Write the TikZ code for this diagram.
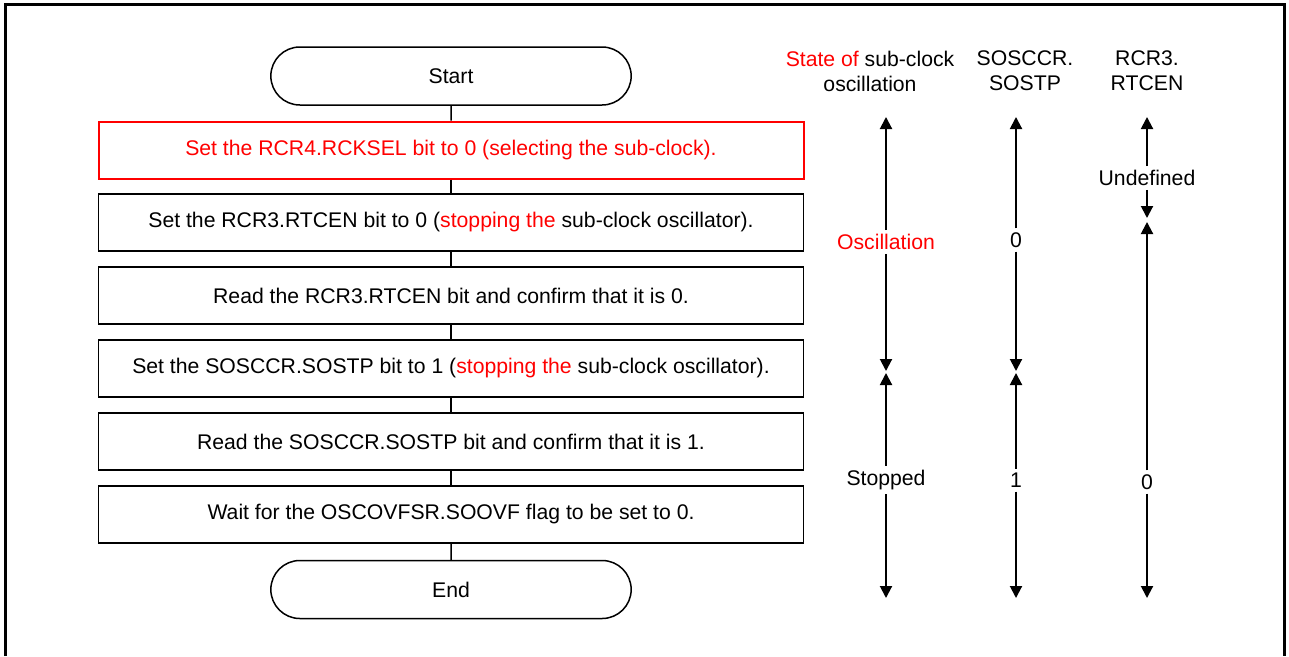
\documentclass[tikz,border=0pt]{standalone}
\usepackage{fontspec}
\setmainfont{Liberation Sans}
\usetikzlibrary{arrows.meta,shapes.misc}
\definecolor{R}{RGB}{255, 0, 0}

\tikzset{
  term/.style={draw, rounded rectangle, minimum width=367, minimum height=58, line width=1.5},
  proc/.style={draw, rectangle, minimum width=705, minimum height=57, line width=1.5},
  lbl/.style={fill=white, inner sep=4},
  span/.style={line width=2, -{Triangle[width=12,length=12]}}
}

\begin{document}
\begin{tikzpicture}[x=1pt, y=-1pt, font=\fontsize{21.2}{25}\selectfont]
  \useasboundingbox (0,0) rectangle (1289,656);
  \draw[black, line width=3] (5.5,656) -- (5.5,4.5) -- (1284.5,4.5) -- (1284.5,656);
  % flow
  \node[term] (start) at (451,76) {Start};
  \node[proc, draw=R, line width=2, text=R] (s1) at (451,150) {Set the RCR4.RCKSEL bit to 0 (selecting the sub-clock).};
  \node[proc] (s2) at (451,222.5) {Set the RCR3.RTCEN bit to 0 (\textcolor{R}{stopping the} sub-clock oscillator).};
  \node[proc] (s3) at (451,295.5) {Read the RCR3.RTCEN bit and confirm that it is 0.};
  \node[proc] (s4) at (451,368.5) {Set the SOSCCR.SOSTP bit to 1 (\textcolor{R}{stopping the} sub-clock oscillator).};
  \node[proc] (s5) at (451,441.5) {Read the SOSCCR.SOSTP bit and confirm that it is 1.};
  \node[proc] (s6) at (451,514.5) {Wait for the OSCOVFSR.SOOVF flag to be set to 0.};
  \node[term] (end) at (451,589.5) {End};
  \foreach \a/\b in {start/s1, s1/s2, s2/s3, s3/s4, s4/s5, s5/s6, s6/end}
    \draw[line width=1.5] (\a) -- (\b);
  % headers
  \node[align=center] (hosc) at (870,71) {\textcolor{R}{State of} sub-clock\\oscillation};
  \node[align=center] (hsostp) at (1025,71) {SOSCCR.\\SOSTP};
  \node[align=center] (hrtcen) at (1147,71) {RCR3.\\RTCEN};
  % oscillation state
  \coordinate (o1) at (886,117);
  \coordinate (o2) at (886,371);
  \coordinate (o3) at (886,373);
  \coordinate (o4) at (886,598);
  \node[lbl, text=R] (osc) at (886,242) {Oscillation};
  \node[lbl] (stp) at (886,480) {Stopped};
  \draw[span] (osc) -- (o1);
  \draw[span] (osc) -- (o2);
  \draw[span] (stp) -- (o3);
  \draw[span] (stp) -- (o4);
  % SOSTP
  \coordinate (p1) at (1016,117);
  \coordinate (p2) at (1016,371);
  \coordinate (p3) at (1016,373);
  \coordinate (p4) at (1016,598);
  \node[lbl] (pzero) at (1016,240) {0};
  \node[lbl] (pone) at (1016,480) {1};
  \draw[span] (pzero) -- (p1);
  \draw[span] (pzero) -- (p2);
  \draw[span] (pone) -- (p3);
  \draw[span] (pone) -- (p4);
  % RTCEN
  \coordinate (r1) at (1147,117);
  \coordinate (r2) at (1147,218);
  \coordinate (r3) at (1147,222);
  \coordinate (r4) at (1147,598);
  \node[lbl] (undef) at (1147,178) {Undefined};
  \node[lbl] (rzero) at (1147,482) {0};
  \draw[span] (undef) -- (r1);
  \draw[span] (undef) -- (r2);
  \draw[span] (rzero) -- (r3);
  \draw[span] (rzero) -- (r4);
\end{tikzpicture}
\end{document}
